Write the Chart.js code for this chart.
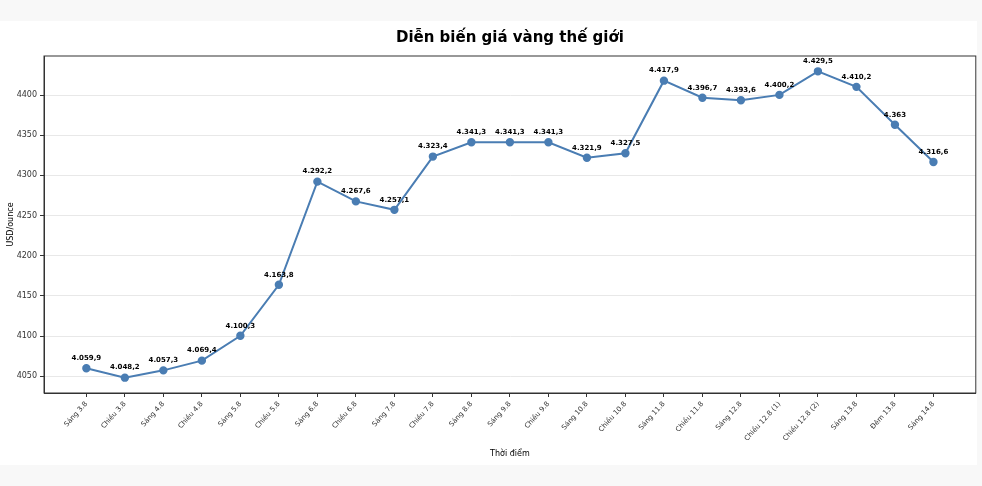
<!DOCTYPE html>
<html>
<head>
<meta charset="utf-8">
<script src="https://cdn.jsdelivr.net/npm/chart.js@4"></script>
<style>
  html, body { margin: 0; padding: 0; background: #f8f8f8; }
  #wrap { position: absolute; left: 0; top: 21px; width: 977px; height: 444px; background: #fff; overflow: hidden; }
</style>
</head>
<body>
<div id="wrap"><canvas id="goldChart" width="981" height="444"></canvas></div>
<script>
const timeLabels = ['Sáng 3.8', 'Chiều 3.8', 'Sáng 4.8', 'Chiều 4.8', 'Sáng 5.8', 'Chiều 5.8',
  'Sáng 6.8', 'Chiều 6.8', 'Sáng 7.8', 'Chiều 7.8', 'Sáng 8.8', 'Sáng 9.8', 'Chiều 9.8',
  'Sáng 10.8', 'Chiều 10.8', 'Sáng 11.8', 'Chiều 11.8', 'Sáng 12.8', 'Chiều 12.8 (1)',
  'Chiều 12.8 (2)', 'Sáng 13.8', 'Đêm 13.8', 'Sáng 14.8'];
const goldPrices = [4059.9, 4048.2, 4057.3, 4069.4, 4100.3, 4163.8, 4292.2, 4267.6, 4257.1,
  4323.4, 4341.3, 4341.3, 4341.3, 4321.9, 4327.5, 4417.9, 4396.7, 4393.6, 4400.2, 4429.5,
  4410.2, 4363, 4316.6];
const yTicks = [4050, 4100, 4150, 4200, 4250, 4300, 4350, 4400];

// vi-VN style: 4.059,9
function fmtVN(v) {
  const parts = String(v).split('.');
  const intPart = parts[0].replace(/\B(?=(\d{3})+(?!\d))/g, '.');
  return parts[1] ? intPart + ',' + parts[1] : intPart;
}

const boxPlugin = {
  id: 'box',
  afterDatasetsDraw(chart) {
    const a = chart.chartArea, ctx = chart.ctx;
    ctx.save();
    ctx.strokeStyle = '#333';
    ctx.lineWidth = 1;
    ctx.strokeRect(a.left, a.top, a.right - a.left, a.bottom - a.top);
    ctx.restore();
  }
};

const valueLabels = {
  id: 'valueLabels',
  afterDatasetsDraw(chart) {
    const ctx = chart.ctx;
    const meta = chart.getDatasetMeta(0);
    ctx.save();
    ctx.font = 'bold 7px "DejaVu Sans"';
    ctx.fillStyle = '#000';
    ctx.textAlign = 'center';
    ctx.textBaseline = 'middle';
    meta.data.forEach((pt, i) => {
      ctx.fillText(fmtVN(goldPrices[i]), pt.x, pt.y - 10);
    });
    ctx.restore();
  }
};

Chart.defaults.font.family = '"DejaVu Sans", sans-serif';
Chart.defaults.color = '#333';

new Chart(document.getElementById('goldChart'), {
  type: 'line',
  data: {
    datasets: [{
      data: goldPrices.map((v, i) => ({ x: i, y: v })),
      borderColor: '#4a7db3',
      backgroundColor: '#4a7db3',
      borderWidth: 2,
      pointRadius: 3.2,
      pointHoverRadius: 3.2,
      tension: 0
    }]
  },
  options: {
    responsive: false,
    animation: false,
    layout: { padding: { left: 0, right: 2, top: 0, bottom: 2 } },
    plugins: {
      legend: { display: false },
      tooltip: { enabled: false },
      title: {
        display: true,
        fullSize: false,
        text: 'Diễn biến giá vàng thế giới',
        color: '#000',
        font: { size: 15, weight: 'bold' },
        padding: { top: 8, bottom: 9 }
      }
    },
    scales: {
      x: {
        type: 'linear',
        min: -1.1,
        max: 23.1,
        afterBuildTicks(scale) {
          scale.ticks = timeLabels.map((_, i) => ({ value: i }));
        },
        afterFit(scale) {
          scale.height = 70;
        },
        ticks: {
          autoSkip: false,
          minRotation: 48,
          maxRotation: 48,
          font: { size: 7 },
          color: '#333',
          padding: 3,
          callback: (v) => timeLabels[v]
        },
        grid: { drawOnChartArea: false, drawTicks: true, tickLength: 4, tickColor: '#333' },
        border: { color: '#333' },
        title: { display: true, text: 'Thời điểm', color: '#000', font: { size: 8 }, padding: { top: 4, bottom: 4 } }
      },
      y: {
        min: 4029.1,
        max: 4448.6,
        afterBuildTicks(scale) {
          scale.ticks = yTicks.map(v => ({ value: v }));
        },
        afterFit(scale) { scale.width = 44; },
        ticks: { font: { size: 8 }, color: '#333', padding: 3, callback: (v) => String(v) },
        grid: { color: '#e8e8e8', tickColor: '#333', tickLength: 4 },
        border: { color: '#333' },
        title: { display: true, text: 'USD/ounce', color: '#000', font: { size: 8 }, padding: { top: 6, bottom: 4 } }
      }
    }
  },
  plugins: [boxPlugin, valueLabels]
});
</script>
</body>
</html>
